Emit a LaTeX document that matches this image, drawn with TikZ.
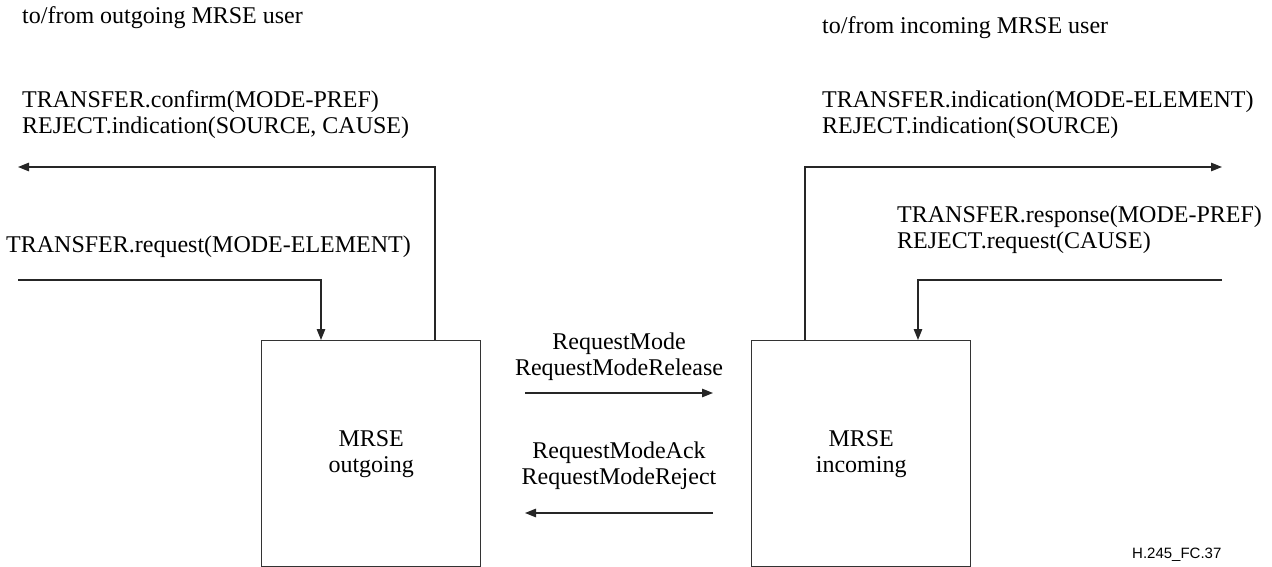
\documentclass[tikz,border=0pt]{standalone}
\usepackage{fontspec}
\setmainfont{Liberation Serif}
\newfontfamily\labelsans{Liberation Sans}
\usetikzlibrary{arrows.meta}
\begin{document}
\begin{tikzpicture}[x=1pt,y=-1pt,
  txt/.style={inner sep=0pt,anchor=base west,font=\fontsize{24}{26}\selectfont},
  ctxt/.style={inner sep=0pt,anchor=base,font=\fontsize{24}{26}\selectfont},
  blockbox/.style={draw=black!80,line width=1.4pt,minimum width=219pt,minimum height=226pt,anchor=north west,inner sep=0pt,align=center,font=\fontsize{24}{26}\selectfont},
  arr/.style={draw=black!85,line width=1.3pt,-{Triangle[length=11pt,width=8.5pt]}},
  ln/.style={draw=black!85,line width=1.3pt}]
\useasboundingbox (0,0) rectangle (1272,567);
% boxes
\node[blockbox] (out) at (261,340) {MRSE\\outgoing};
\node[blockbox] (inc) at (751,340) {MRSE\\incoming};
% free ends
\coordinate (outTip) at (18,167);
\coordinate (reqStart) at (18,280);
\coordinate (incTip) at (1222,167);
\coordinate (respStart) at (1222,280);
\coordinate (m1) at (525,393);
\coordinate (m2) at (713,393);
\coordinate (m3) at (713,513);
\coordinate (m4) at (525,513);
% connectors
\draw[arr] ([xshift=174pt]out.north west) |- (outTip);
\draw[arr] (reqStart) -| ([xshift=60pt]out.north west);
\draw[arr] ([xshift=54pt]inc.north west) |- (incTip);
\draw[arr] (respStart) -| ([xshift=167pt]inc.north west);
\draw[arr] (m1) -- (m2);
\draw[arr] (m3) -- (m4);
% texts
\node[txt] (t1) at (22,24) {to/from outgoing MRSE user};
\node[txt] (t2) at (822,34) {to/from incoming MRSE user};
\node[txt] (t3) at (22,108) {TRANSFER.confirm(MODE-PREF)};
\node[txt] (t4) at (22,134) {REJECT.indication(SOURCE, CAUSE)};
\node[txt] (t5) at (6,252) {TRANSFER.request(MODE-ELEMENT)};
\node[txt] (t6) at (822,108) {TRANSFER.indication(MODE-ELEMENT)};
\node[txt] (t7) at (822,134) {REJECT.indication(SOURCE)};
\node[txt] (t8) at (897,222) {TRANSFER.response(MODE-PREF)};
\node[txt] (t9) at (897,248) {REJECT.request(CAUSE)};
\node[ctxt] (t10) at (619,349) {RequestMode};
\node[ctxt] (t11) at (619,375) {RequestModeRelease};
\node[ctxt] (t12) at (619,458) {RequestModeAck};
\node[ctxt] (t13) at (619,484) {RequestModeReject};
\node[inner sep=0pt,anchor=base west,font=\labelsans\fontsize{15}{17}\selectfont] (fig) at (1132,558) {H.245\_FC.37};
\end{tikzpicture}
\end{document}
